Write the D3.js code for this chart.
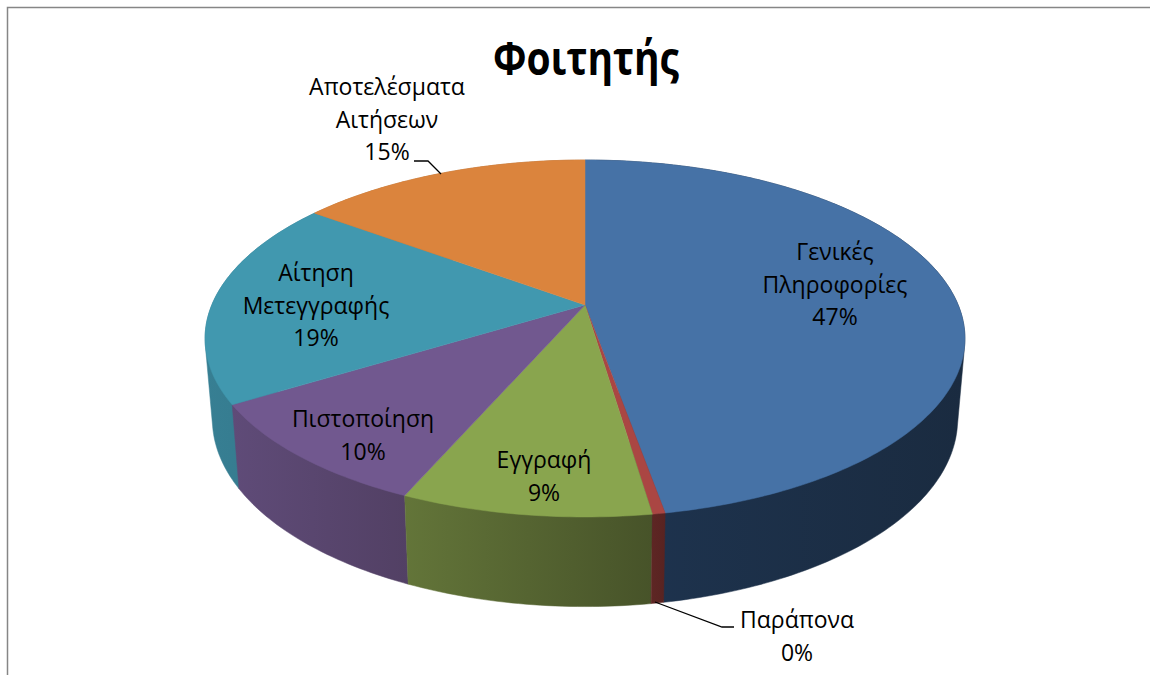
<!DOCTYPE html>
<html>
<head>
<meta charset="utf-8">
<script src="https://cdn.jsdelivr.net/npm/d3@7"></script>
<style>
  html, body { margin: 0; padding: 0; background: #fff; overflow: hidden; }
  text { font-family: "Open Sans", "Noto Sans", sans-serif; fill: #000; }
</style>
</head>
<body>
<div id="chart"></div>
<script>
const categories = ["Γενικές Πληροφορίες", "Παράπονα", "Εγγραφή", "Πιστοποίηση", "Αίτηση Μετεγγραφής", "Αποτελέσματα Αιτήσεων"];
const shares = [47.2, 0.45, 8.9, 9.7, 18.85, 14.9];

const topColors = ["#4672a6", "#aa4643", "#89a54e", "#71588f", "#4198af", "#db843d"];
const sideLeftColors = ["#1e3450", "#5e2624", "#637539", "#5f4b78", "#377f93", "#b56d32"];
const sideRightColors = ["#1a2b40", "#582321", "#475329", "#524064", "#33768a", "#a86530"];

// label lines and their centre position, one entry per slice
const labelLines = [["Γενικές", "Πληροφορίες"], ["Παράπονα"], ["Εγγραφή"], ["Πιστοποίηση"], ["Αίτηση", "Μετεγγραφής"], ["Αποτελέσματα", "Αιτήσεων"]];
const labelCentres = [[835, 252], [797, 620], [544, 460], [363, 419], [316, 273], [387, 87]];
const lineGap = 32.5;

const width = 1150;
const height = 675;

// the pie is a tilted disc seen in perspective: far side squeezed, near side stretched
const tilt = 0.1877;
const cx = 585;
const cy = 305;
const topX = d3.scaleLinear().domain([-1, 1]).range([cx - 373.2, cx + 373.2]);
const topY = d3.scaleLinear().domain([-1, 1]).range([cy + 172.2, cy - 172.2]);
const baseX = d3.scaleLinear().domain([-1, 1]).range([cx - 366, cx + 366]);
const baseY = d3.scaleLinear().domain([-1, 1]).range([384 + 180.8, 384 - 180.8]);

function project(angle, xs, ys) {
  const u = Math.sin(angle);
  const v = Math.cos(angle);
  const w = 1 + tilt * v;
  return [xs(u / w), ys(v / w)];
}

function arcAngles(d) {
  const steps = Math.max(2, Math.ceil((d.endAngle - d.startAngle) * 60));
  return d3.range(steps + 1).map((i) => d.startAngle + (d.endAngle - d.startAngle) * i / steps);
}

const svg = d3.select("#chart").append("svg")
  .attr("width", width)
  .attr("height", height);

const defs = svg.append("defs");
const line = d3.line();
const pie = d3.pie().sort(null)(shares);
const percent = d3.format(".0%");

svg.append("rect").attr("width", width).attr("height", height).attr("fill", "#fff");

// chart frame, only left and top edges are inside the picture
svg.append("path")
  .attr("d", "M7.5," + height + "V7.5H" + width)
  .attr("fill", "none")
  .attr("stroke", "#868686")
  .attr("stroke-width", 1.5);

// side walls first, back to front. Each is the hull of its two arcs so the
// silhouette runs straight from top disc to base disc; the slices hide the rest
const wallOrder = [5, 4, 3, 0, 2, 1];
wallOrder.forEach(function (i) {
  const angles = arcAngles(pie[i]);
  const upper = angles.map((a) => project(a, topX, topY));
  const lower = angles.map((a) => project(a, baseX, baseY));
  const hull = d3.polygonHull(upper.concat(lower));

  const xs = d3.extent(hull, (p) => p[0]);
  const grad = defs.append("linearGradient")
    .attr("id", "side" + i)
    .attr("gradientUnits", "userSpaceOnUse")
    .attr("x1", xs[0]).attr("x2", xs[1])
    .attr("y1", 0).attr("y2", 0);
  grad.append("stop").attr("offset", 0).attr("stop-color", sideLeftColors[i]);
  grad.append("stop").attr("offset", 1).attr("stop-color", sideRightColors[i]);

  svg.append("path")
    .attr("class", "side")
    .attr("d", line(hull) + "Z")
    .attr("fill", "url(#side" + i + ")")
    .attr("stroke", "url(#side" + i + ")")
    .attr("stroke-width", 0.5);
});

pie.forEach(function (d, i) {
  const pts = [[cx, cy]].concat(arcAngles(d).map((a) => project(a, topX, topY)));
  svg.append("path")
    .attr("class", "slice")
    .attr("d", line(pts) + "Z")
    .attr("fill", topColors[i])
    .attr("stroke", topColors[i])
    .attr("stroke-width", 0.5);
});

// leader lines for the two labels outside the pie
const leaders = [
  [[414, 161], [428, 161], [441, 174]],
  [[655, 602], [722, 627], [734, 627]],
];
leaders.forEach(function (pts) {
  svg.append("path")
    .attr("d", line(pts))
    .attr("fill", "none")
    .attr("stroke", "#000")
    .attr("stroke-width", 1.3);
});

pie.forEach(function (d, i) {
  const lines = labelLines[i].concat(percent(shares[i] / 100));
  const label = svg.append("text")
    .attr("class", "label")
    .attr("text-anchor", "middle")
    .attr("font-size", 23);
  lines.forEach(function (txt, j) {
    label.append("tspan")
      .attr("x", labelCentres[i][0])
      .attr("y", labelCentres[i][1] + j * lineGap + 8)
      .text(txt);
  });
});

svg.append("text")
  .attr("x", 586)
  .attr("y", 75)
  .attr("text-anchor", "middle")
  .attr("font-size", 46)
  .attr("font-weight", 700)
  .attr("textLength", 186)
  .attr("lengthAdjust", "spacingAndGlyphs")
  .text("Φοιτητής");
</script>
</body>
</html>
